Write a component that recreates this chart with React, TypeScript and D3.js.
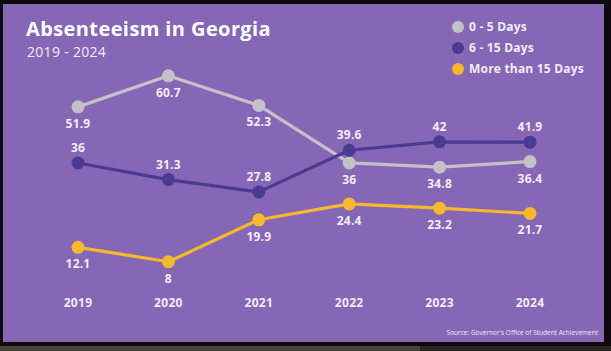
import React, { useEffect, useRef } from 'react';
import * as d3 from 'd3';

const years = ['2019', '2020', '2021', '2022', '2023', '2024'];
const days0to5 = [51.9, 60.7, 52.3, 36, 34.8, 36.4];
const days6to15 = [36, 31.3, 27.8, 39.6, 42, 41.9];
const days15plus = [12.1, 8, 19.9, 24.4, 23.2, 21.7];
const seriesNames = ['0 - 5 Days', '6 - 15 Days', 'More than 15 Days'];

const W = 611;
const H = 351;
const FONT = '"Open Sans", "Noto Sans", sans-serif';

function App() {
    const ref = useRef<SVGSVGElement>(null);

    useEffect(() => {
        const svg = d3.select(ref.current);
        svg.selectAll('*').remove();

        // tv-screen frame
        svg.append('rect').attr('width', W).attr('height', H).attr('fill', '#0c0a0d');
        svg.append('rect').attr('x', 0).attr('y', 346).attr('width', 420).attr('height', 5).attr('fill', '#4a423c');
        svg.append('rect').attr('x', 420).attr('y', 346).attr('width', 191).attr('height', 5).attr('fill', '#2a2420');
        svg.append('rect').attr('x', 3).attr('y', 4).attr('width', 601).attr('height', 338).attr('fill', '#8567b6');

        const series = [
            { name: seriesNames[0], values: days0to5, color: '#c4c1c8', labelBelow: true },
            { name: seriesNames[1], values: days6to15, color: '#4a3a91', labelBelow: false },
            { name: seriesNames[2], values: days15plus, color: '#f6b82c', labelBelow: true },
        ];

        const x = d3.scalePoint().domain(years).range([78, 530]);
        const y = d3.scaleLinear().domain([0, 70]).range([290, 43]);

        const line = d3.line<number>()
            .x((d, i) => x(years[i]) as number)
            .y((d) => y(d));

        // lines first, then dots, then labels
        series.forEach((s) => {
            svg.append('path')
                .attr('d', line(s.values))
                .attr('fill', 'none')
                .attr('stroke', s.color)
                .attr('stroke-width', 3.2)
                .attr('stroke-linejoin', 'round');
        });

        series.forEach((s) => {
            svg.append('g')
                .selectAll('circle')
                .data(s.values)
                .enter().append('circle')
                .attr('cx', (d, i) => x(years[i]) as number)
                .attr('cy', (d) => y(d))
                .attr('r', 6.5)
                .attr('fill', s.color);
        });

        series.forEach((s) => {
            svg.append('g')
                .selectAll('text')
                .data(s.values)
                .enter().append('text')
                .attr('x', (d, i) => x(years[i]) as number)
                .attr('y', (d) => y(d) + (s.labelBelow ? 21 : -11))
                .attr('text-anchor', 'middle')
                .attr('font-family', FONT)
                .attr('font-weight', 700)
                .attr('font-size', 12)
                .attr('letter-spacing', 0.2)
                .attr('fill', '#f1edf6')
                .text((d) => String(d));
        });

        // x axis labels
        svg.append('g')
            .selectAll('text')
            .data(years)
            .enter().append('text')
            .attr('x', (d) => x(d) as number)
            .attr('y', 307)
            .attr('text-anchor', 'middle')
            .attr('font-family', FONT)
            .attr('font-weight', 700)
            .attr('font-size', 12)
            .attr('letter-spacing', 0.3)
            .attr('fill', '#f1edf6')
            .text((d) => d);

        // title
        svg.append('text')
            .attr('x', 26).attr('y', 36)
            .attr('font-family', FONT).attr('font-weight', 700).attr('font-size', 20)
            .attr('letter-spacing', 0.4)
            .attr('fill', '#ffffff')
            .text('Absenteeism in Georgia');
        svg.append('text')
            .attr('x', 27).attr('y', 57)
            .attr('font-family', FONT).attr('font-weight', 400).attr('font-size', 14)
            .attr('letter-spacing', 0.3)
            .attr('fill', '#f1edf6')
            .text('2019 - 2024');

        // legend
        series.forEach((s, i) => {
            const ly = 27 + i * 21;
            svg.append('circle').attr('cx', 458).attr('cy', ly).attr('r', 6).attr('fill', s.color);
            svg.append('text')
                .attr('x', 469).attr('y', ly + 4)
                .attr('font-family', FONT).attr('font-weight', 700).attr('font-size', 12)
                .attr('letter-spacing', 0.2)
                .attr('fill', '#f1edf6')
                .text(s.name);
        });

        svg.append('text')
            .attr('x', 598).attr('y', 335)
            .attr('text-anchor', 'end')
            .attr('font-family', FONT).attr('font-size', 6.5)
            .attr('fill', '#eeeaf4')
            .text("Source: Governor's Office of Student Achievement");
    }, []);

    return (
        <svg ref={ref} width={W} height={H} style={{ position: 'absolute', left: 0, top: 0 }}></svg>
    );
}

export default App;
